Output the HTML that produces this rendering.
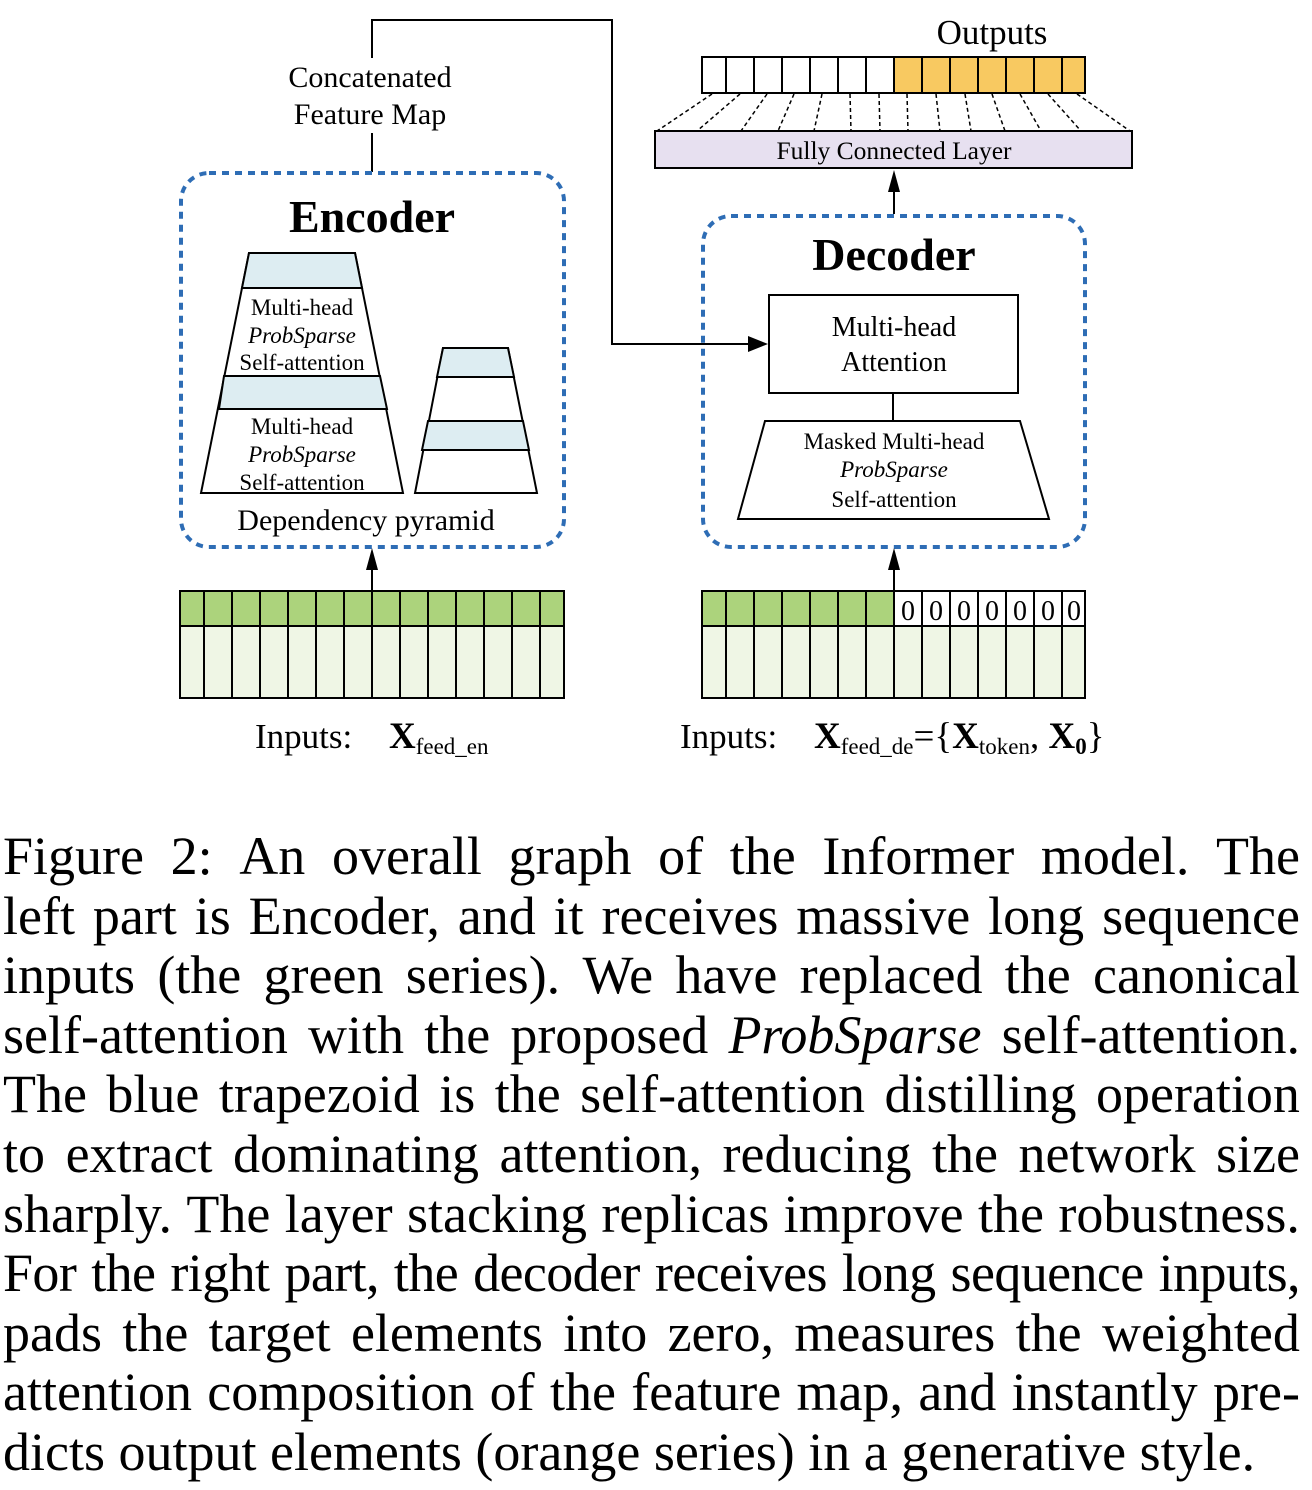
<!DOCTYPE html>
<html><head><meta charset="utf-8"><style>
html,body{margin:0;padding:0;background:#fff;}
body{width:1312px;height:1490px;position:relative;overflow:hidden;font-family:"Liberation Serif",serif;}
svg{position:absolute;left:0;top:0;}
.cap{position:absolute;left:3px;width:1297px;font-size:54px;line-height:59.6px;height:59.6px;display:flex;justify-content:space-between;white-space:nowrap;color:#000;}
.cap.last{justify-content:flex-start;gap:0;}
</style></head><body>
<svg width="1312" height="800" viewBox="0 0 1312 800" font-family="Liberation Serif, serif">
<text x="370" y="87" font-size="30" text-anchor="middle">Concatenated</text>
<text x="370" y="124" font-size="30" text-anchor="middle">Feature Map</text>
<polyline points="372,58 372,20 612,20 612,344 748,344" fill="none" stroke="#000" stroke-width="2"/>
<path d="M748,336 L768,344 L748,352 Z" fill="#000"/>
<line x1="372" y1="133" x2="372" y2="172" stroke="#000" stroke-width="2"/>
<rect x="181" y="173" width="383" height="374" rx="28" fill="none" stroke="#2e6db5" stroke-width="4" stroke-dasharray="7 6"/>
<text x="372" y="232" font-size="46" font-weight="bold" text-anchor="middle">Encoder</text>
<polygon points="249,253 355,253 403,493 201,493" fill="#fff" stroke="#000" stroke-width="2"/>
<polygon points="249,253 355,253 362,288 242,288" fill="#ddedf2" stroke="#000" stroke-width="2"/>
<polygon points="224,376 380,376 387,409 219,409" fill="#ddedf2" stroke="#000" stroke-width="2"/>
<g font-size="23" text-anchor="middle">
<text x="302" y="315">Multi-head</text>
<text x="302" y="343" font-style="italic">ProbSparse</text>
<text x="302" y="370">Self-attention</text>
<text x="302" y="434">Multi-head</text>
<text x="302" y="462" font-style="italic">ProbSparse</text>
<text x="302" y="490">Self-attention</text>
</g>
<polygon points="443,348 508,348 537,493 415,493" fill="#fff" stroke="#000" stroke-width="2"/>
<polygon points="443,348 508,348 514,377 437,377" fill="#ddedf2" stroke="#000" stroke-width="2"/>
<polygon points="428,421 523,421 529,450 422,450" fill="#ddedf2" stroke="#000" stroke-width="2"/>
<text x="366" y="530" font-size="30" text-anchor="middle">Dependency pyramid</text>
<rect x="703" y="216" width="382" height="331" rx="28" fill="none" stroke="#2e6db5" stroke-width="4" stroke-dasharray="7 6"/>
<text x="894" y="270" font-size="46" font-weight="bold" text-anchor="middle">Decoder</text>
<rect x="769" y="295" width="249" height="98" fill="#fff" stroke="#000" stroke-width="2"/>
<text x="894" y="336" font-size="28" text-anchor="middle">Multi-head</text>
<text x="894" y="371" font-size="28" text-anchor="middle">Attention</text>
<line x1="893" y1="393" x2="893" y2="421" stroke="#000" stroke-width="2"/>
<polygon points="765,421 1020,421 1049,519 738,519" fill="#fff" stroke="#000" stroke-width="2"/>
<g font-size="23" text-anchor="middle">
<text x="894" y="449">Masked Multi-head</text>
<text x="894" y="477" font-style="italic">ProbSparse</text>
<text x="894" y="507">Self-attention</text>
</g>
<line x1="372" y1="591" x2="372" y2="566" stroke="#000" stroke-width="2"/>
<path d="M366,570 L372,548 L378,570 Z" fill="#000"/>
<line x1="894" y1="591" x2="894" y2="566" stroke="#000" stroke-width="2"/>
<path d="M888,570 L894,548 L900,570 Z" fill="#000"/>
<line x1="894" y1="214" x2="894" y2="190" stroke="#000" stroke-width="2"/>
<path d="M888,192 L894,170 L900,192 Z" fill="#000"/>
<rect x="655" y="131" width="477" height="37" fill="#e7e0f0" stroke="#000" stroke-width="2"/>
<text x="894" y="159" font-size="25.5" text-anchor="middle">Fully Connected Layer</text>
<g stroke="#000" stroke-width="1.5" stroke-dasharray="4 3">
<line x1="712" y1="94" x2="657" y2="131"/><line x1="740" y1="94" x2="697" y2="131"/>
<line x1="767" y1="94" x2="741" y2="131"/><line x1="794" y1="94" x2="778" y2="131"/>
<line x1="822" y1="94" x2="814" y2="131"/><line x1="850" y1="94" x2="851" y2="131"/>
<line x1="879" y1="94" x2="880" y2="131"/><line x1="907" y1="94" x2="908" y2="131"/>
<line x1="936" y1="94" x2="940" y2="131"/><line x1="965" y1="94" x2="971" y2="131"/>
<line x1="992" y1="94" x2="1005" y2="131"/><line x1="1020" y1="94" x2="1041" y2="131"/>
<line x1="1048" y1="94" x2="1081" y2="131"/><line x1="1077" y1="94" x2="1130" y2="131"/>
</g>
<text x="992" y="44" font-size="35" text-anchor="middle">Outputs</text>
<rect x="894" y="57" width="191" height="36" fill="#f8c961"/>
<rect x="702" y="57" width="383" height="36" fill="none" stroke="#000" stroke-width="2"/>
<g stroke="#000" stroke-width="2">
<line x1="726" y1="57" x2="726" y2="93"/><line x1="754" y1="57" x2="754" y2="93"/><line x1="782" y1="57" x2="782" y2="93"/><line x1="810" y1="57" x2="810" y2="93"/><line x1="838" y1="57" x2="838" y2="93"/><line x1="866" y1="57" x2="866" y2="93"/><line x1="894" y1="57" x2="894" y2="93"/><line x1="922" y1="57" x2="922" y2="93"/><line x1="950" y1="57" x2="950" y2="93"/><line x1="978" y1="57" x2="978" y2="93"/><line x1="1006" y1="57" x2="1006" y2="93"/><line x1="1034" y1="57" x2="1034" y2="93"/><line x1="1062" y1="57" x2="1062" y2="93"/>
</g>
<rect x="180" y="591" width="384" height="107" fill="#eff6e5"/>
<rect x="180" y="591" width="384" height="35" fill="#acd37c"/>
<rect x="180" y="591" width="384" height="107" fill="none" stroke="#000" stroke-width="2"/>
<line x1="180" y1="626" x2="564" y2="626" stroke="#000" stroke-width="2"/>
<g stroke="#000" stroke-width="2">
<line x1="204" y1="591" x2="204" y2="698"/><line x1="232" y1="591" x2="232" y2="698"/><line x1="260" y1="591" x2="260" y2="698"/><line x1="288" y1="591" x2="288" y2="698"/><line x1="316" y1="591" x2="316" y2="698"/><line x1="344" y1="591" x2="344" y2="698"/><line x1="372" y1="591" x2="372" y2="698"/><line x1="400" y1="591" x2="400" y2="698"/><line x1="428" y1="591" x2="428" y2="698"/><line x1="456" y1="591" x2="456" y2="698"/><line x1="484" y1="591" x2="484" y2="698"/><line x1="512" y1="591" x2="512" y2="698"/><line x1="540" y1="591" x2="540" y2="698"/>
</g>
<rect x="702" y="591" width="383" height="107" fill="#eff6e5"/>
<rect x="702" y="591" width="192" height="35" fill="#acd37c"/>
<rect x="894" y="591" width="191" height="35" fill="#fff"/>
<rect x="702" y="591" width="383" height="107" fill="none" stroke="#000" stroke-width="2"/>
<line x1="702" y1="626" x2="1085" y2="626" stroke="#000" stroke-width="2"/>
<g stroke="#000" stroke-width="2">
<line x1="726" y1="591" x2="726" y2="698"/><line x1="754" y1="591" x2="754" y2="698"/><line x1="782" y1="591" x2="782" y2="698"/><line x1="810" y1="591" x2="810" y2="698"/><line x1="838" y1="591" x2="838" y2="698"/><line x1="866" y1="591" x2="866" y2="698"/><line x1="894" y1="591" x2="894" y2="698"/><line x1="922" y1="591" x2="922" y2="698"/><line x1="950" y1="591" x2="950" y2="698"/><line x1="978" y1="591" x2="978" y2="698"/><line x1="1006" y1="591" x2="1006" y2="698"/><line x1="1034" y1="591" x2="1034" y2="698"/><line x1="1062" y1="591" x2="1062" y2="698"/>
</g>
<g font-size="28" text-anchor="middle">
<text x="908" y="620">0</text><text x="936" y="620">0</text><text x="964" y="620">0</text><text x="992" y="620">0</text><text x="1020" y="620">0</text><text x="1048" y="620">0</text><text x="1074" y="620">0</text>
</g>
<text x="255" y="748" font-size="35">Inputs:</text>
<text x="389" y="748" font-size="37" font-weight="bold">X<tspan font-size="23" font-weight="normal" dy="6">feed_en</tspan></text>
<text x="680" y="748" font-size="35">Inputs:</text>
<text x="814" y="748" font-size="37"><tspan font-weight="bold">X</tspan><tspan font-size="23" dy="6">feed_de</tspan><tspan dy="-6">={</tspan><tspan font-weight="bold">X</tspan><tspan font-size="23" dy="6">token</tspan><tspan dy="-6">, </tspan><tspan font-weight="bold">X</tspan><tspan font-size="23" font-weight="bold" dy="6">0</tspan><tspan dy="-6">}</tspan></text>
</svg>
<div class="cap" style="top:827px"><span>Figure</span><span>2:</span><span>An</span><span>overall</span><span>graph</span><span>of</span><span>the</span><span>Informer</span><span>model.</span><span>The</span></div>
<div class="cap" style="top:886.6px"><span>left</span><span>part</span><span>is</span><span>Encoder,</span><span>and</span><span>it</span><span>receives</span><span>massive</span><span>long</span><span>sequence</span></div>
<div class="cap" style="top:946.2px"><span>inputs</span><span>(the</span><span>green</span><span>series).</span><span>We</span><span>have</span><span>replaced</span><span>the</span><span>canonical</span></div>
<div class="cap" style="top:1005.8px"><span>self-attention</span><span>with</span><span>the</span><span>proposed</span><span><i>ProbSparse</i></span><span>self-attention.</span></div>
<div class="cap" style="top:1065.4px"><span>The</span><span>blue</span><span>trapezoid</span><span>is</span><span>the</span><span>self-attention</span><span>distilling</span><span>operation</span></div>
<div class="cap" style="top:1125px"><span>to</span><span>extract</span><span>dominating</span><span>attention,</span><span>reducing</span><span>the</span><span>network</span><span>size</span></div>
<div class="cap" style="top:1184.6px"><span>sharply.</span><span>The</span><span>layer</span><span>stacking</span><span>replicas</span><span>improve</span><span>the</span><span>robustness.</span></div>
<div class="cap" style="top:1244.2px;letter-spacing:-0.6px"><span>For</span><span>the</span><span>right</span><span>part,</span><span>the</span><span>decoder</span><span>receives</span><span>long</span><span>sequence</span><span>inputs,</span></div>
<div class="cap" style="top:1303.8px"><span>pads</span><span>the</span><span>target</span><span>elements</span><span>into</span><span>zero,</span><span>measures</span><span>the</span><span>weighted</span></div>
<div class="cap" style="top:1363.4px"><span>attention</span><span>composition</span><span>of</span><span>the</span><span>feature</span><span>map,</span><span>and</span><span>instantly</span><span>pre-</span></div>
<div class="cap last" style="top:1423px">dicts output elements (orange series) in a generative style.</div>
</body></html>
